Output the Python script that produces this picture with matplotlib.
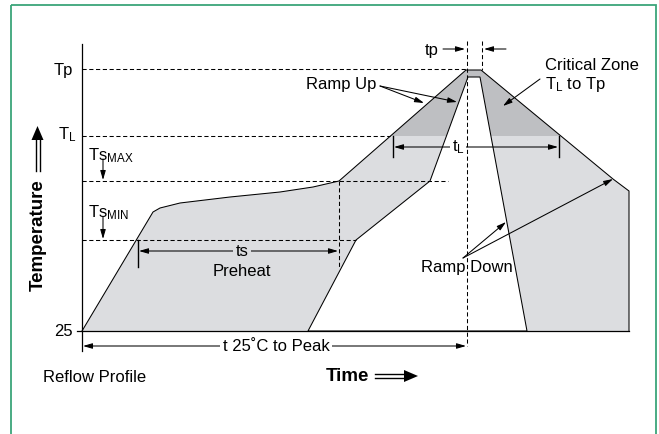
import matplotlib
matplotlib.use("Agg")
import matplotlib.pyplot as plt
from matplotlib.patches import Polygon, Rectangle

plt.rcParams['font.family'] = ['Liberation Sans', 'DejaVu Sans']
plt.rcParams['mathtext.fontset'] = 'custom'
plt.rcParams['mathtext.rm'] = 'Liberation Sans'
plt.rcParams['mathtext.it'] = 'Liberation Sans:italic'
plt.rcParams['mathtext.bf'] = 'Liberation Sans:bold'

# ---- diagram data (chart units: time to the right, temperature downward on canvas scale) ----
level_names = ['Tp', 'TL', 'TsMAX', 'TsMIN', '25']
level_y = [70, 137, 182, 241, 332]

# upper-bound (slowest) profile outline
upper_t = [82, 153, 160, 180, 230, 280, 313, 339, 466, 481, 613, 629, 629]
upper_T = [332, 213, 209, 204, 198, 193, 188, 182, 71, 71, 180, 192, 332]

# lower-bound (fastest) profile outline (inside is white)
lower_t = [308, 356, 430, 468, 480, 527]
lower_T = [332, 241, 182, 78, 78, 332]

# dashed guide-line extents (end time for each level)
dash_end_t = [466, 390, 448, 356]

LIGHT = '#dcdde0'
DARK = '#bebfc2'
LW = 0.75
DASH = (0, (4, 2.5))
FS = 12

fig = plt.figure(figsize=(6.59, 4.35), dpi=100)
ax = fig.add_axes([0, 0, 1, 1])
ax.set_xlim(0, 659)
ax.set_ylim(435, 0)
ax.axis('off')

# green frame
ax.add_patch(Rectangle((10.5, 5.5), 645, 440, fill=False, edgecolor='#3aa57a', lw=1.3))

# fills
up_xy = list(zip(upper_t, upper_T))
ax.add_patch(Polygon(up_xy, closed=True, facecolor=LIGHT, edgecolor='none', zorder=1))
dark = Polygon(up_xy, closed=True, facecolor=DARK, edgecolor='none', zorder=1.1)
ax.add_patch(dark)
clip = Rectangle((0, 0), 659, level_y[1], transform=ax.transData)
dark.set_clip_path(clip)
ax.add_patch(Polygon(list(zip(lower_t, lower_T)), closed=True, facecolor='white',
                     edgecolor='black', lw=LW, zorder=2))
ax.plot(upper_t, upper_T, color='black', lw=LW, zorder=2)

# axes lines
ax.plot([82, 82], [45, 352], color='black', lw=0.9, zorder=3)
ax.plot([77, 629], [level_y[4], level_y[4]], color='black', lw=0.9, zorder=3)

# dashed level lines
for y, xe in zip(level_y[:4], dash_end_t):
    ax.plot([82, xe], [y, y], color='black', lw=LW, linestyle=DASH, zorder=3)
# dashed verticals
ax.plot([339, 339], [182, 270], color='black', lw=LW, linestyle=DASH, zorder=3)
ax.plot([467, 467], [42, 347], color='black', lw=LW, linestyle=DASH, zorder=3)
ax.plot([482, 482], [42, 71], color='black', lw=LW, linestyle=DASH, zorder=3)

# ticks at ends of dimension arrows
ax.plot([393, 393], [137, 158], color='black', lw=1.0, zorder=3)
ax.plot([559, 559], [137, 158], color='black', lw=1.0, zorder=3)
ax.plot([138, 138], [241, 268], color='black', lw=1.0, zorder=3)


def arrow(x0, y0, x1, y1, style='-|>'):
    ax.annotate('', xy=(x1, y1), xytext=(x0, y0),
                arrowprops=dict(arrowstyle=style + ',head_length=0.55,head_width=0.16',
                                lw=LW, color='black', shrinkA=0, shrinkB=0,
                                mutation_scale=10), zorder=4)


# dimension arrows
arrow(394, 148, 558, 148, '<|-|>')
arrow(139, 252, 338, 252, '<|-|>')
arrow(83, 347, 466, 347, '<|-|>')
arrow(443, 50, 465, 50)
arrow(506, 50, 484, 50)
arrow(103, 160, 103, 181)
arrow(103, 218, 103, 240)
# callout arrows
arrow(380, 87, 424, 104)
arrow(380, 87, 457, 103)
arrow(540, 80, 503, 107)
arrow(463, 259, 506, 223)
arrow(463, 259, 613, 180)

# labels
ax.text(73, 70, 'Tp', fontsize=FS, ha='right', va='center')
ax.text(76, 135, r'T$_\mathrm{L}$', fontsize=FS, ha='right', va='center')
ax.text(73, 332, '25', fontsize=FS, ha='right', va='center')
ax.text(88, 156, r'Ts$_\mathrm{MAX}$', fontsize=FS, ha='left', va='center')
ax.text(88, 213, r'Ts$_\mathrm{MIN}$', fontsize=FS, ha='left', va='center')
ax.text(432, 50, 'tp', fontsize=FS, ha='center', va='center')
ax.text(458, 147, r't$_\mathrm{L}$', fontsize=FS, ha='center', va='center', zorder=5,
        bbox=dict(facecolor='white', edgecolor='none', pad=1.5))
ax.text(242, 252, 'ts', fontsize=FS, ha='center', va='center', zorder=5,
        bbox=dict(facecolor=LIGHT, edgecolor='none', pad=2))
ax.text(242, 272, 'Preheat', fontsize=FS, ha='center', va='center')
ax.text(276, 347, 't 25˚C to Peak', fontsize=FS, ha='center', va='center', zorder=5,
        bbox=dict(facecolor='white', edgecolor='none', pad=2))
ax.text(341, 85, 'Ramp Up', fontsize=FS, ha='center', va='center')
ax.text(545, 65, 'Critical Zone', fontsize=FS, ha='left', va='center')
ax.text(545, 84, r'T$_\mathrm{L}$ to Tp', fontsize=FS, ha='left', va='center')
ax.text(467, 268, 'Ramp Down', fontsize=FS, ha='center', va='center')
ax.text(43, 378, 'Reflow Profile', fontsize=FS, ha='left', va='center')
ax.text(347, 377, 'Time', fontsize=13.5, fontweight='bold', ha='center', va='center')
ax.text(38, 235, 'Temperature', fontsize=13.5, fontweight='bold', ha='center', va='center',
        rotation=90)

# double arrows
ax.plot([375, 407], [375, 375], color='black', lw=1.0)
ax.plot([375, 407], [379, 379], color='black', lw=1.0)
ax.add_patch(Polygon([(404, 371), (404, 383), (418, 377)], closed=True, facecolor='black',
                     edgecolor='none'))
ax.plot([35.5, 35.5], [172, 138], color='black', lw=1.0)
ax.plot([39.5, 39.5], [172, 138], color='black', lw=1.0)
ax.add_patch(Polygon([(31.5, 141), (43.5, 141), (37.5, 127)], closed=True, facecolor='black',
                     edgecolor='none'))

fig.savefig('out.png', dpi=100)
